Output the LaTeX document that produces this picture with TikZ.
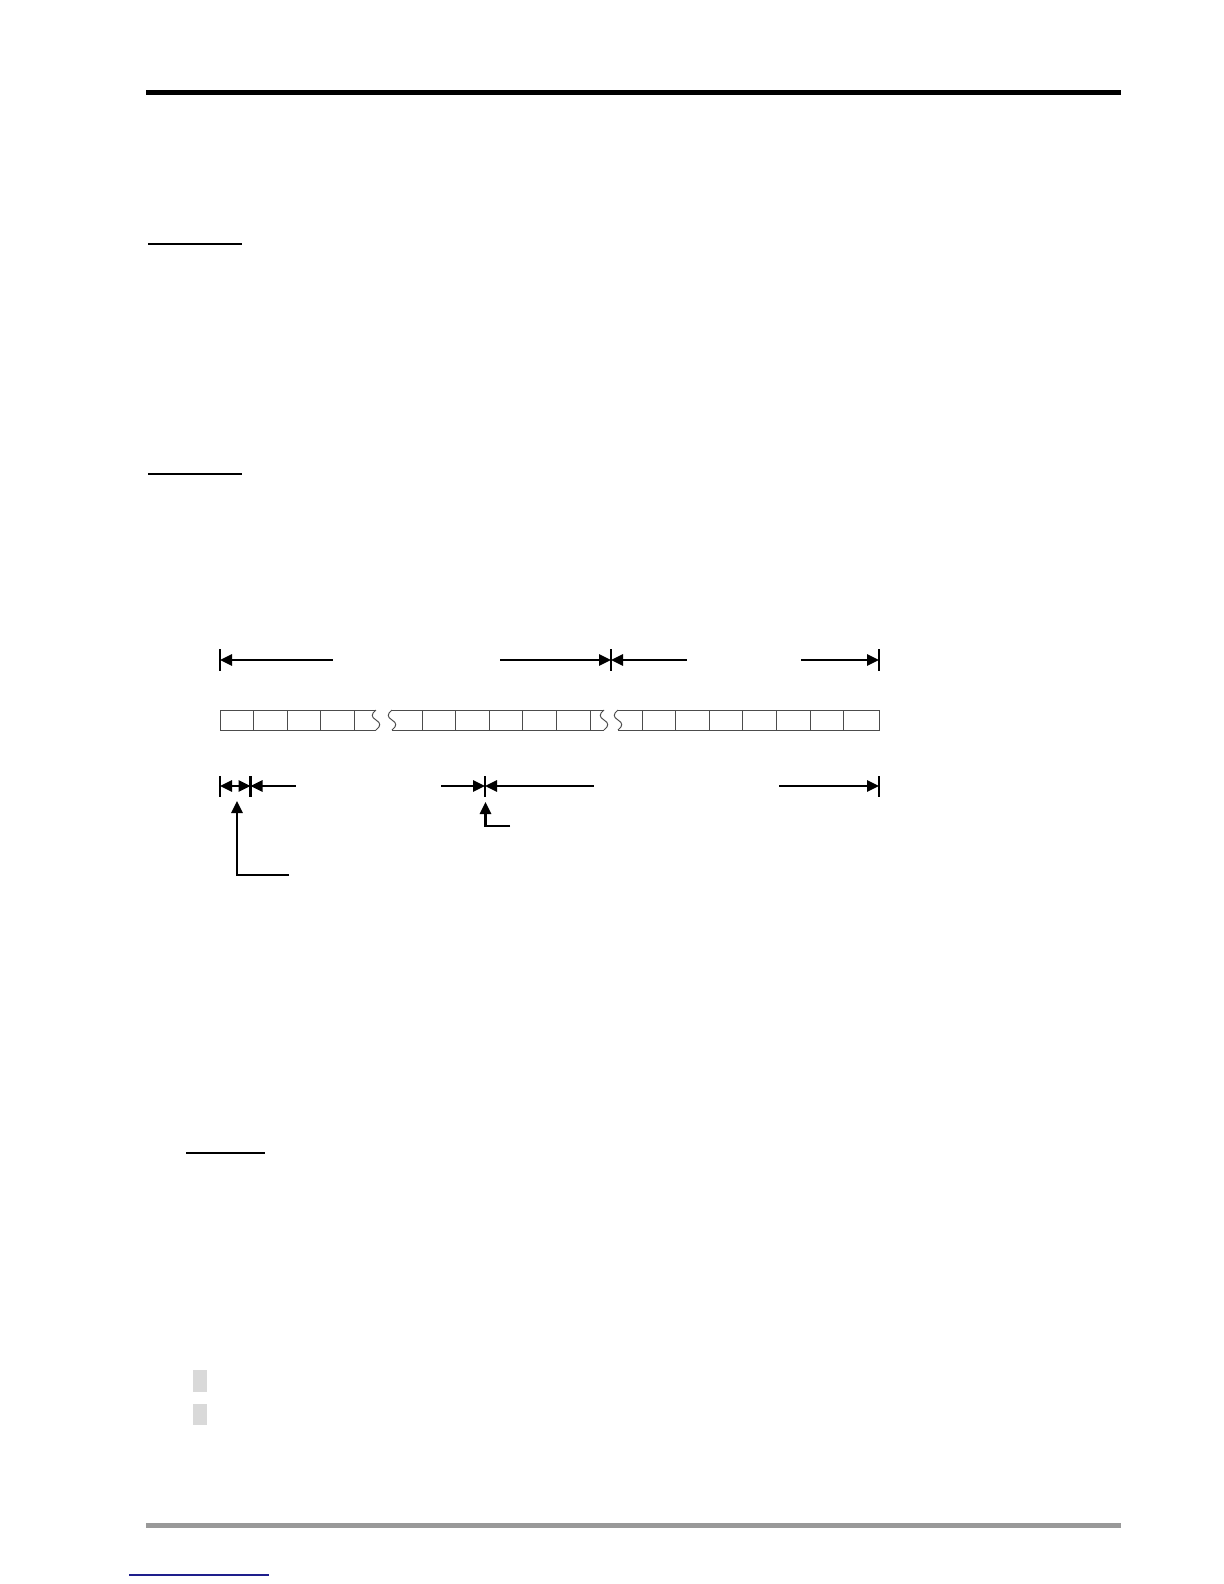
\documentclass[tikz,border=0pt]{standalone}
\usetikzlibrary{arrows.meta}

\begin{document}
\begin{tikzpicture} [x=0.5pt, y=-0.5pt, >={Triangle[length=6pt,width=5.5pt]}, dimline/.style={line width=1.3pt}, tick/.style={line width=1.1pt}, cellline/.style={line width=0.5pt, draw=black!70}, tapebreak/.pic={\draw [cellline] (0,-10) .. controls (-5,-6) and (-5,-3) .. (0,0) .. controls (5,3) and (5,6) .. (0,10);}]
  \useasboundingbox (0,0) rectangle (1224,1584);
  %% page rules
  \fill (146,90) rectangle (1121,95);
  \draw [line width=0.6pt] (148,244) -- (242,244);
  \draw [line width=0.6pt] (148,474) -- (242,474);
  \draw [line width=1pt] (186,1153) -- (265,1153);
  \fill [black!15] (193,1370) rectangle (207,1392);
  \fill [black!15] (193,1404) rectangle (207,1425);
  \fill [black!40] (146,1523) rectangle (1121,1528);
  \draw [line width=0.6pt, draw={rgb,255:red,30;green,30;blue,140}] (129,1575) -- (269,1575);

  %% upper dimensions
  \coordinate (ua) at (220,660);
  \coordinate (ub) at (611,660);
  \coordinate (uc) at (879,660);
  \draw [tick] (ua) ++(0,-11) -- ++(0,22);
  \draw [tick] (ub) ++(0,-11) -- ++(0,22);
  \draw [tick] (uc) ++(0,-11) -- ++(0,22);
  \draw [dimline, <-] (ua) -- (333,660);
  \draw [dimline, ->] (500,660) -- (ub);
  \draw [dimline, <-] (ub) -- (687,660);
  \draw [dimline, ->] (801,660) -- (uc);

  %% tape
  \draw [cellline] (376,710) -- (220,710) -- (220,730) -- (376,730);
  \draw [cellline] (253.6,710) -- (253.6,730) (287.2,710) -- (287.2,730) (320.8,710) -- (320.8,730) (354.4,710) -- (354.4,730);
  \pic at (376,720) {tapebreak};
  \pic at (392,720) {tapebreak};
  \draw [cellline] (392,710) -- (604,710) (392,730) -- (604,730);
  \draw [cellline] (422,710) -- (422,730) (455.6,710) -- (455.6,730) (489.2,710) -- (489.2,730) (522.8,710) -- (522.8,730) (556.4,710) -- (556.4,730) (590,710) -- (590,730);
  \pic at (604,720) {tapebreak};
  \pic at (618,720) {tapebreak};
  \draw [cellline] (618,710) -- (879,710) -- (879,730) -- (618,730);
  \draw [cellline] (642,710) -- (642,730) (675.6,710) -- (675.6,730) (709.2,710) -- (709.2,730) (742.8,710) -- (742.8,730) (776.4,710) -- (776.4,730) (810,710) -- (810,730) (843.6,710) -- (843.6,730);

  %% lower dimensions
  \coordinate (la) at (220,786);
  \coordinate (lb) at (250.5,786);
  \coordinate (lc) at (485,786);
  \coordinate (ld) at (879,786);
  \draw [tick] (la) ++(0,-10) -- ++(0,21);
  \draw [tick] (lb) ++(0,-10) -- ++(0,21);
  \draw [tick] (lc) ++(0,-10) -- ++(0,21);
  \draw [tick] (ld) ++(0,-10) -- ++(0,21);
  \draw [dimline, <->] (la) -- (lb);
  \draw [dimline, <-] (lb) -- (296,786);
  \draw [dimline, ->] (441,786) -- (lc);
  \draw [dimline, <-] (lc) -- (594,786);
  \draw [dimline, ->] (779,786) -- (ld);
  % leaders
  \coordinate (lead1) at (289,875);
  \coordinate (lead2) at (510,826);
  \draw [dimline, ->] (lead1) -| (237,801);
  \draw [dimline, ->] (lead2) -| (485.5,802);
\end{tikzpicture}
\end{document}
